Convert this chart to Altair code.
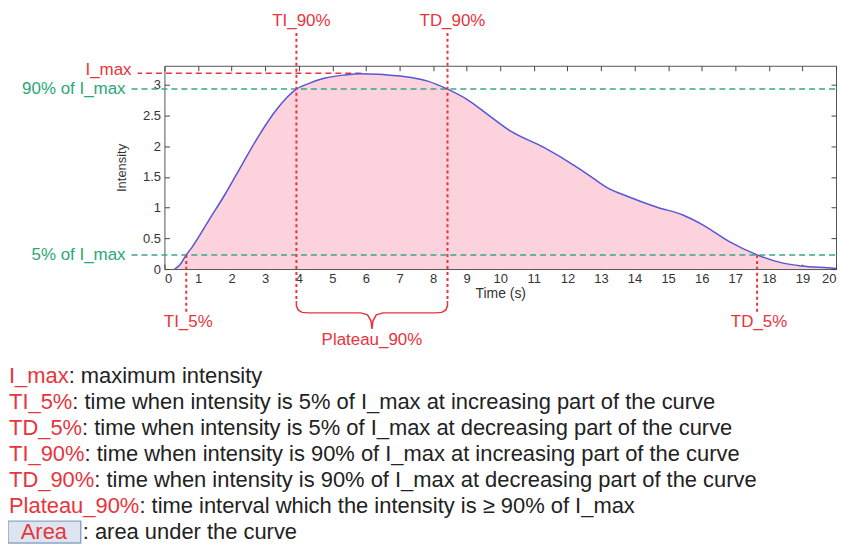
import altair as alt
import pandas as pd

# ---------------- data ----------------
TIME = [0.30, 0.45, 0.65, 0.84, 1.33, 1.82, 2.32, 2.81, 3.30, 3.93, 4.29, 4.78, 5.37, 5.86,
        6.36, 6.65, 7.35, 7.84, 8.43, 9.02, 9.62, 10.30, 11.30, 12.28, 12.87, 13.17, 13.86,
        14.65, 15.44, 16.03, 16.81, 17.65, 18.39, 18.98, 19.76, 20.00]
INTENSITY = [0.00, 0.06, 0.23, 0.37, 0.80, 1.23, 1.71, 2.17, 2.57, 2.93, 3.02, 3.11, 3.16, 3.18,
             3.17, 3.16, 3.12, 3.06, 2.93, 2.76, 2.52, 2.25, 1.98, 1.66, 1.44, 1.33, 1.17,
             1.01, 0.88, 0.72, 0.45, 0.23, 0.10, 0.05, 0.02, 0.01]

I_MAX = 3.19
T_PEAK = 5.86
LEVEL_90 = 2.93
LEVEL_5 = 0.23
TI_5, TD_5 = 0.65, 17.65
TI_90, TD_90 = 3.93, 8.43

X_TICKS = list(range(0, 21))
Y_TICKS = [0, 0.5, 1, 1.5, 2, 2.5, 3]

TOP_LABELS = ["TI_90%", "TD_90%"]
BOTTOM_LABELS = ["TI_5%", "TD_5%"]
PLATEAU_LABEL = "Plateau_90%"
LEVEL_LABELS = ["90% of I_max", "5% of I_max"]
IMAX_LABEL = "I_max"

TERMS = ["I_max", "TI_5%", "TD_5%", "TI_90%", "TD_90%", "Plateau_90%"]
DESCS = [": maximum intensity",
         ": time when intensity is 5% of I_max at increasing part of the curve",
         ": time when intensity is 5% of I_max at decreasing part of the curve",
         ": time when intensity is 90% of I_max at increasing part of the curve",
         ": time when intensity is 90% of I_max at decreasing part of the curve",
         ": time interval which the intensity is \u2265 90% of I_max"]
AREA_TERM = "Area"
AREA_DESC = ": area under the curve"

# ---------------- styling ----------------
W, H = 674, 204
FONT = "Liberation Sans"
RED = "#e8343c"
GREEN_T = "#2aa876"
GREEN_L = "#3aa58c"
PINK = "#fcd2dc"
BLUE = "#5656d6"
LEG_SIZE = 22
ANN_SIZE = 17

# Arial / Liberation Sans advance widths (per 1000 em) used to place the black text after each red term
ADV = {"I": 278, "_": 556, "m": 833, "a": 556, "x": 500, "T": 611, "5": 556, "%": 889, "D": 722,
       "9": 556, "0": 556, "P": 667, "l": 222, "t": 278, "e": 556, "u": 556}


def text_w(s, size):
    return sum(ADV.get(c, 556) for c in s) * size / 1000.0


xscale = alt.Scale(domain=[0, 20], nice=False, zero=False)
yscale = alt.Scale(domain=[0, 3.31], nice=False, zero=False)

ax = dict(domain=False, tickSize=5, tickColor="#444", tickWidth=1, offset=-5, grid=False,
          labelFont=FONT, labelFontSize=13, labelColor="#333",
          titleFont=FONT, titleFontWeight="normal", titleColor="#333")


def X(field):
    return alt.X(field, type="quantitative", scale=xscale, axis=None)


def Y(field):
    return alt.Y(field, type="quantitative", scale=yscale, axis=None)


curve = pd.DataFrame({"t": TIME, "v": INTENSITY})

area = alt.Chart(curve).mark_area(color=PINK, opacity=1, interpolate="monotone").encode(
    x=alt.X("t:Q", scale=xscale,
            axis=alt.Axis(values=X_TICKS, orient="bottom", labelPadding=4, title="Time (s)",
                          titleFontSize=14, titlePadding=1, **ax)),
    y=alt.Y("v:Q", scale=yscale,
            axis=alt.Axis(values=Y_TICKS, orient="left", format="~g", labelPadding=4,
                          title="Intensity", titleFontSize=13, titlePadding=14, **ax)),
)

line = alt.Chart(curve).mark_line(color=BLUE, strokeWidth=1.5, interpolate="monotone").encode(
    x=alt.X("t:Q", scale=xscale,
            axis=alt.Axis(values=X_TICKS, orient="top", labels=False, title=None, **ax)),
    y=alt.Y("v:Q", scale=yscale,
            axis=alt.Axis(values=Y_TICKS, orient="right", labels=False, title=None, **ax)),
)

green_rules = alt.Chart(pd.DataFrame({"level": [LEVEL_90, LEVEL_5]})).mark_rule(
    color=GREEN_L, strokeDash=[6, 4], strokeWidth=1.5).encode(
    y=Y("level"), x=alt.value(-33), x2=alt.value(W))

imax_rule = alt.Chart(pd.DataFrame({"level": [I_MAX], "t": [T_PEAK]})).mark_rule(
    color=RED, strokeDash=[6, 4], strokeWidth=1.5).encode(
    y=Y("level"), x=X("t"), x2=alt.value(-27))

v90 = alt.Chart(pd.DataFrame({"t": [TI_90, TD_90]})).mark_rule(
    color=RED, strokeDash=[3, 3], strokeWidth=2).encode(
    x=X("t"), y=alt.value(-33), y2=alt.value(236))

v5 = alt.Chart(pd.DataFrame({"t": [TI_5, TD_5], "level": [LEVEL_5, LEVEL_5]})).mark_rule(
    color=RED, strokeDash=[3, 3], strokeWidth=2).encode(
    x=X("t"), y=Y("level"), y2=alt.value(247))

top_text = alt.Chart(pd.DataFrame({"t": [TI_90, TD_90], "label": TOP_LABELS})).mark_text(
    color=RED, font=FONT, fontSize=ANN_SIZE, dx=5, baseline="middle").encode(
    x=X("t"), y=alt.value(-45), text="label:N")

bottom_text = alt.Chart(pd.DataFrame({"t": [TI_5, TD_5], "label": BOTTOM_LABELS})).mark_text(
    color=RED, font=FONT, fontSize=ANN_SIZE, dx=2, baseline="middle").encode(
    x=X("t"), y=alt.value(257), text="label:N")

plateau_text = alt.Chart(pd.DataFrame({"t": [(TI_90 + TD_90) / 2], "label": [PLATEAU_LABEL]})).mark_text(
    color=RED, font=FONT, fontSize=ANN_SIZE, baseline="middle").encode(
    x=X("t"), y=alt.value(275), text="label:N")

imax_text = alt.Chart(pd.DataFrame({"level": [I_MAX], "label": [IMAX_LABEL]})).mark_text(
    color=RED, font=FONT, fontSize=ANN_SIZE, align="right", baseline="middle", dy=-3).encode(
    x=alt.value(-33), y=Y("level"), text="label:N")

level_text = alt.Chart(pd.DataFrame({"level": [LEVEL_90, LEVEL_5], "label": LEVEL_LABELS})).mark_text(
    color=GREEN_T, font=FONT, fontSize=ANN_SIZE, align="right", baseline="middle").encode(
    x=alt.value(-39), y=Y("level"), text="label:N")

main = alt.layer(area, green_rules, imax_rule, line, v90, v5, top_text, bottom_text,
                 plateau_text, imax_text, level_text).resolve_axis(x="independent", y="independent")

# curly brace under the plateau (derived from TI_90 / TD_90)
mid = (TI_90 + TD_90) / 2
bx = [TI_90, TI_90, TI_90 + 0.05, TI_90 + 0.17, TI_90 + 0.37, mid - 0.33, mid - 0.13, mid - 0.03, mid,
      mid + 0.03, mid + 0.13, mid + 0.33, TD_90 - 0.37, TD_90 - 0.17, TD_90 - 0.05, TD_90, TD_90]
by = [236, 241, 245, 247.5, 248, 248, 250, 256, 264, 256, 250, 248, 248, 247.5, 245, 241, 236]
brace = alt.Chart(pd.DataFrame({"t": bx, "py": by, "i": list(range(len(bx)))})).mark_line(
    color=RED, strokeWidth=1.5).encode(
    x=X("t"),
    y=alt.Y("py:Q", scale=alt.Scale(domain=[0, H], range=[0, H]), axis=None),
    order="i:Q")

# explanatory legend below the chart
LEG_X = -156
rows = list(range(len(TERMS) + 1))
rowscale = alt.Scale(type="point", domain=rows, range=[311, 468], padding=0)
leg_df = pd.DataFrame({"row": rows[:-1], "term": TERMS, "desc": DESCS,
                       "dx": [text_w(t, LEG_SIZE) for t in TERMS]})
leg_red = alt.Chart(leg_df).mark_text(
    color=RED, font=FONT, fontSize=LEG_SIZE, align="left", baseline="middle").encode(
    x=alt.value(LEG_X), y=alt.Y("row:O", scale=rowscale, axis=None), text="term:N")
leg_black = alt.Chart(leg_df).transform_calculate(px=f"{LEG_X} + datum.dx").mark_text(
    color="#222", font=FONT, fontSize=LEG_SIZE, align="left", baseline="middle").encode(
    x=alt.X("px:Q", scale=None, axis=None),
    y=alt.Y("row:O", scale=rowscale, axis=None), text="desc:N")

area_df = pd.DataFrame({"row": [rows[-1]], "term": [AREA_TERM], "desc": [AREA_DESC]})
area_box = alt.Chart(area_df).mark_rect(fill="#dde6f0", stroke="#8aa6c6", strokeWidth=1.5).encode(
    x=alt.value(-157), x2=alt.value(-84), y=alt.value(457), y2=alt.value(479))
area_term = alt.Chart(area_df).mark_text(
    color=RED, font=FONT, fontSize=LEG_SIZE, align="center", baseline="middle").encode(
    x=alt.value(-121), y=alt.Y("row:O", scale=rowscale, axis=None), text="term:N")
area_desc = alt.Chart(area_df).mark_text(
    color="#222", font=FONT, fontSize=LEG_SIZE, align="left", baseline="middle").encode(
    x=alt.value(-82), y=alt.Y("row:O", scale=rowscale, axis=None), text="desc:N")

legend = alt.layer(leg_red, leg_black, area_box, area_term, area_desc)

chart = alt.layer(main, brace, legend).resolve_scale(y="independent").resolve_axis(
    x="independent", y="independent").properties(
    width=W, height=H,
    autosize=alt.AutoSizeParams(type="none"),
    padding={"left": 157, "top": 57, "right": 2, "bottom": 280},
    background="white",
).configure_view(stroke="#555", strokeWidth=1)

chart.save("out.html", embed_options={"renderer": "svg", "actions": False})
